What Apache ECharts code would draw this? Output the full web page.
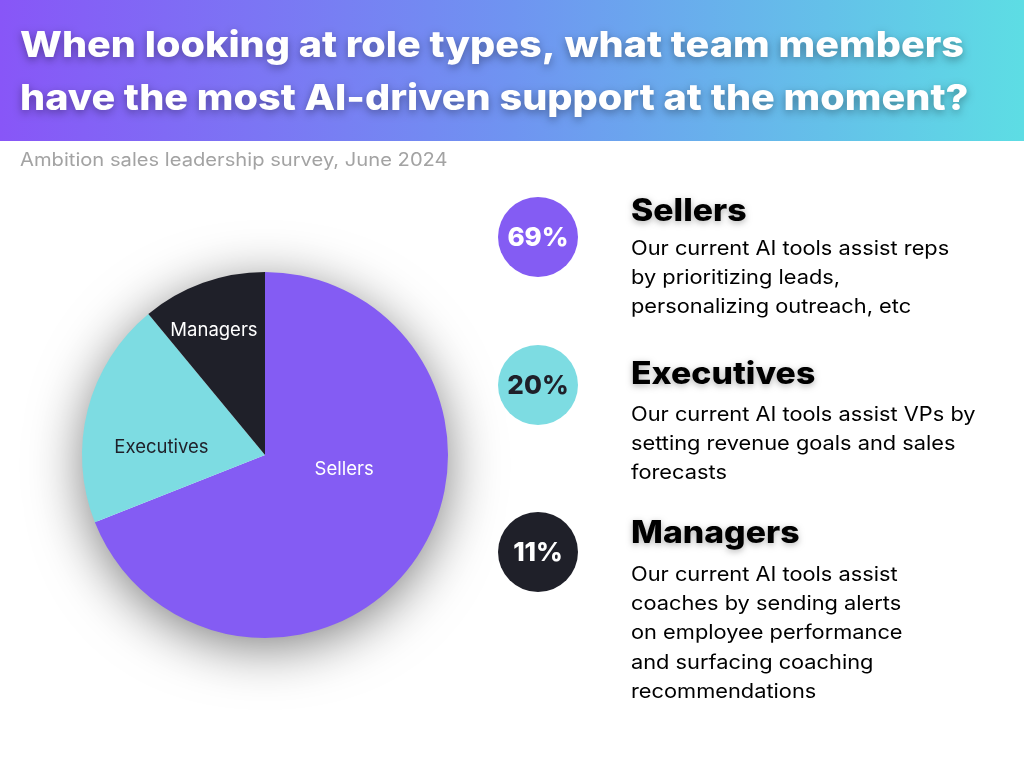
<!DOCTYPE html>
<html><head><meta charset="utf-8">
<script src="https://cdn.jsdelivr.net/npm/echarts@6/dist/echarts.min.js"></script>
<style>html,body{margin:0;padding:0;background:#fff}#c{width:1024px;height:768px}</style>
</head><body><div id="c"></div>
<script>
const titleLines = ["When looking at role types, what team members", "have the most AI-driven support at the moment?"];
const subtitle = "Ambition sales leadership survey, June 2024";
const categories = ["Sellers", "Executives", "Managers"];
const values = [69, 20, 11];
const colors = ["#845cf3", "#7ddce2", "#1f2029"];
const labelColors = ["#ffffff", "#1f2029", "#ffffff"];
const badgeTextColors = ["#ffffff", "#1f2029", "#ffffff"];
const descriptions = [
  ["Our current AI tools assist reps", "by prioritizing leads,", "personalizing outreach, etc"],
  ["Our current AI tools assist VPs by", "setting revenue goals and sales", "forecasts"],
  ["Our current AI tools assist", "coaches by sending alerts", "on employee performance", "and surfacing coaching", "recommendations"]
];

const FONT = "Inter, 'Noto Sans', sans-serif";
const chart = echarts.init(document.getElementById('c'), null, {renderer: 'canvas'});

const labelOffsets = [[1, -39], [-12, 16], [-19, -36]];
const pieData = categories.map((n, i) => ({
  name: n, value: values[i],
  itemStyle: {color: colors[i]},
  label: {color: labelColors[i], offset: labelOffsets[i]}
}));

const graphics = [];
graphics.push({
  type: 'rect', left: 0, top: 0, z: 0,
  shape: {width: 1024, height: 141},
  style: {fill: new echarts.graphic.LinearGradient(0, 0, 1, 0, [
    {offset: 0, color: '#8856f7'}, {offset: 0.5, color: '#6f94f1'}, {offset: 1, color: '#5ddde4'}])}
});
titleLines.forEach((t, i) => {
  graphics.push({
    type: 'text', z: 2, x: 20, y: 46 + i * 53, scaleX: 1.1,
    style: {text: t, fill: '#ffffff', font: "800 36px " + FONT, verticalAlign: 'middle',
      textShadowColor: 'rgba(0,0,0,0.35)', textShadowBlur: 8, textShadowOffsetY: 3}
  });
});
graphics.push({
  type: 'text', x: 20, y: 161, scaleX: 1.12,
  style: {text: subtitle, fill: '#a3a3a3', font: "400 18px " + FONT, verticalAlign: 'middle'}
});
// pie drop shadow
graphics.push({
  type: 'circle', z: -1, shape: {cx: 265, cy: 455, r: 180},
  style: {fill: '#ffffff', shadowBlur: 55, shadowColor: 'rgba(0,0,0,0.55)', shadowOffsetY: 10}
});

const rowY = [237, 385, 552];
const headY = [212, 375, 534];
const descY = [249, 415, 575];
categories.forEach((n, i) => {
  graphics.push({type: 'circle', shape: {cx: 538, cy: rowY[i], r: 40}, style: {fill: colors[i]}});
  graphics.push({type: 'text', x: 538, y: rowY[i] + 1,
    style: {text: values[i] + '%', fill: badgeTextColors[i], font: "800 26px " + FONT, align: 'center', verticalAlign: 'middle'}});
  graphics.push({type: 'text', x: 631, y: headY[i], scaleX: 1.09,
    style: {text: n, fill: '#000000', font: "800 31px " + FONT, verticalAlign: 'middle',
      textShadowColor: 'rgba(0,0,0,0.3)', textShadowBlur: 6, textShadowOffsetY: 2}});
  descriptions[i].forEach((d, j) => {
    graphics.push({type: 'text', x: 631, y: descY[i] + j * 29.2, scaleX: 1.09,
      style: {text: d, fill: '#000000', font: "400 20px " + FONT, verticalAlign: 'middle'}});
  });
});

chart.setOption({
  backgroundColor: '#ffffff',
  animation: false,
  graphic: {elements: graphics},
  series: [{
    type: 'pie', center: [265, 455], radius: 183, startAngle: 90, clockwise: true,
    z: 3,
    label: {show: true, position: 'inside', formatter: '{b}', fontFamily: FONT, fontSize: 18.5, fontWeight: 400},
    labelLine: {show: false},
    emphasis: {disabled: true},
    data: pieData
  }]
});
</script></body></html>
